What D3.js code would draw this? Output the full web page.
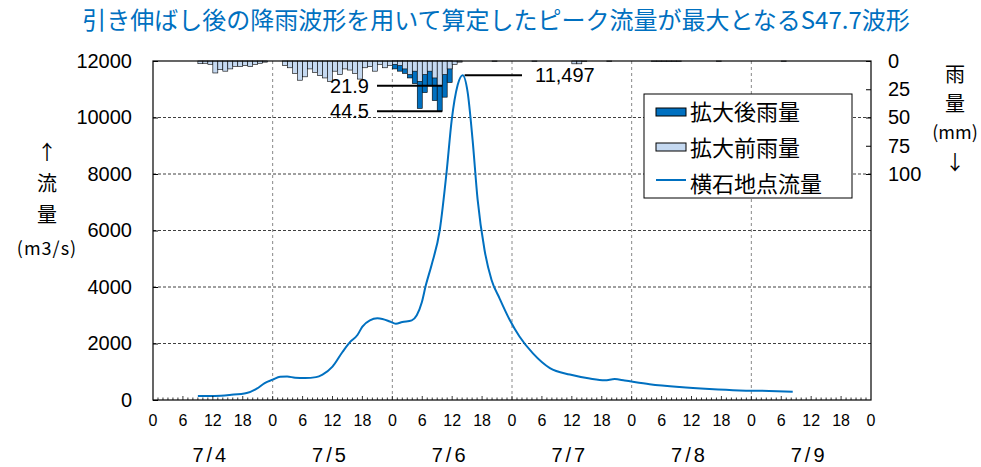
<!DOCTYPE html>
<html><head><meta charset="utf-8">
<script src="https://cdn.jsdelivr.net/npm/d3@7"></script>
<style>
body{margin:0;background:#fff;}
svg{display:block;}
text{font-family:"Liberation Sans",Arial,sans-serif;fill:#000;}
.jp{font-family:"Noto Sans CJK JP","Noto Sans",sans-serif;}
</style></head>
<body>
<svg id="c" width="981" height="467"></svg>
<script>
// ---- data ----
const titleText = "引き伸ばし後の降雨波形を用いて算定したピーク流量が最大となるS47.7波形";
const dayLabels = ["7/4","7/5","7/6","7/7","7/8","7/9"];
const hourTickLabels = [0,6,12,18];
const flowTicks = [0,2000,4000,6000,8000,10000,12000];
const rainTicks = [0,25,50,75,100];
// hours counted from 7/4 0:00
const rainHours  = [9,10,11,12,13,14,15,16,17,18,19,20,21,22,
  26,27,28,29,30,31,32,33,34,35,36,37,38,39,40,41,42,43,44,45,46,47,
  48,49,50,51,52,53,54,55,56,57,58,59,60,61,
  68,76,84,85,86,91,100,101,102,103,104,105,113,126];
const rainBefore = [2.4,2,3,10.6,7.7,9,7,4.7,5,4,5,3,2,1,
  4,6,11,17,14,7,10,13,15,18,9,12,7,8,11,16,6,5,9,3,6,4,
  3,4,7,12,9,18,12,9,15,21.9,12,7,3,1,
  0.5,0.5,2.5,2.5,0.5,0.5,0.5,0.5,0.5,0.5,0.5,0.5,0.5,0.5];
const rainAfter  = [2.4,2,3,10.6,7.7,9,7,4.7,5,4,5,3,2,1,
  4,6,11,17,14,7,10,13,15,18,9,12,7,8,11,16,6,5,9,3,6,4,
  7,9,11,15,20,42,28,22,35,44.5,32,19,3,1,
  0.5,0.5,2.5,2.5,0.5,0.5,0.5,0.5,0.5,0.5,0.5,0.5,0.5,0.5];
const flowHours = [9,12.4,15.4,18.8,20.8,22.4,24,25.5,26.9,28.5,30.5,32.7,34,36,38,39.5,41,42,43.5,45,46,47.5,48.7,50,51.9,52.9,53.9,54.7,55.9,57.5,58.9,59.9,61.1,62.1,63.1,64.1,65.1,66.5,67.9,69.5,71.5,73.5,76.2,79.6,83.6,87.6,90.6,92.6,94.6,99.6,105.6,111.6,117.6,123.6,128.3];
const flowValues = [140,145,180,250,400,600,720,820,830,790,780,810,900,1180,1700,2050,2300,2600,2820,2890,2870,2780,2700,2760,2820,3000,3450,4050,4800,6000,8100,9900,11150,11497,10900,9200,7100,5300,4250,3600,2850,2250,1650,1130,900,760,700,740,690,560,460,390,340,320,290];
const legendLabels = ["拡大後雨量","拡大前雨量","横石地点流量"];
const peakLabel = "11,497";

// ---- layout ----
const L=153, R=871, T=61, B=400;
const blue="#0070C0", light="#C5D9F1";
const svg=d3.select("#c");
const x=d3.scaleLinear().domain([0,144]).range([L,R]);
const y=d3.scaleLinear().domain([0,12000]).range([B,T]);
const yr=d3.scaleLinear().domain([0,300]).range([T,B]);

// title
svg.append("text").attr("class","jp").attr("x",496).attr("y",29)
  .attr("text-anchor","middle").style("font-size","24px").style("fill",blue)
  .text(titleText);

// grid
const g=svg.append("g");
g.selectAll(".hg").data(flowTicks.slice(1,-1)).join("line")
  .attr("x1",L).attr("x2",R).attr("y1",d=>y(d)).attr("y2",d=>y(d))
  .attr("stroke","#404040").attr("stroke-dasharray","3,2").attr("stroke-width",1);
g.selectAll(".vg").data(d3.range(24,144,24)).join("line")
  .attr("x1",d=>x(d)).attr("x2",d=>x(d)).attr("y1",T).attr("y2",B)
  .attr("stroke","#888").attr("stroke-dasharray","3,3").attr("stroke-width",1);

// rain bars
const rain=rainHours.map((h,i)=>({h,b:rainBefore[i],a:rainAfter[i]}));
const bw=x(1)-x(0);
svg.append("g").selectAll("rect").data(rain.filter(d=>d.a>d.b)).join("rect")
  .attr("x",d=>x(d.h)).attr("width",bw).attr("y",T).attr("height",d=>yr(d.a)-T)
  .attr("fill",blue).attr("stroke","#000").attr("stroke-width",0.6);
svg.append("g").selectAll("rect").data(rain).join("rect")
  .attr("x",d=>x(d.h)).attr("width",bw).attr("y",T).attr("height",d=>yr(d.b)-T)
  .attr("fill",light).attr("stroke","#000").attr("stroke-width",0.6);

// flow line
const flow=flowHours.map((h,i)=>[h,flowValues[i]]);
svg.append("path").datum(flow)
  .attr("d",d3.line().x(d=>x(d[0])).y(d=>y(d[1])).curve(d3.curveMonotoneX))
  .attr("fill","none").attr("stroke",blue).attr("stroke-width",2);

// frame
svg.append("rect").attr("x",L).attr("y",T).attr("width",R-L).attr("height",B-T)
  .attr("fill","none").attr("stroke","#000").attr("stroke-width",1.2);

// axes
const yAxis=d3.axisLeft(y).tickValues(flowTicks).tickFormat(d3.format("d")).tickSize(-5).tickPadding(21);
const ya=svg.append("g").attr("transform",`translate(${L},0)`).call(yAxis);
ya.select(".domain").remove();
ya.selectAll("text").style("font-size","20px").style("font-family","Liberation Sans, Arial");

const rAxis=d3.axisRight(yr).tickValues(rainTicks).tickSize(-5).tickPadding(17);
const ra=svg.append("g").attr("transform",`translate(${R},0)`).call(rAxis);
ra.select(".domain").remove();
ra.selectAll("text").style("font-size","20px").style("font-family","Liberation Sans, Arial");

// bottom ticks (inward)
svg.append("g").selectAll("line").data(d3.range(1,144)).join("line")
  .attr("x1",d=>x(d)).attr("x2",d=>x(d)).attr("y1",B).attr("y2",d=>B-(d%6===0?4:2.5))
  .attr("stroke","#000").attr("stroke-width",0.8);
const hourLabels=[];
for(let d=0; d<6; d++) hourTickLabels.forEach(h=>hourLabels.push({v:d*24+h,t:String(h)}));
hourLabels.push({v:144,t:"0"});
svg.append("g").selectAll("text").data(hourLabels).join("text")
  .attr("x",d=>x(d.v)).attr("y",426).attr("text-anchor","middle")
  .style("font-size","16px").text(d=>d.t);
svg.append("g").selectAll("text").data(dayLabels).join("text")
  .attr("x",(d,i)=>x(i*24+12)-2).attr("y",462).attr("text-anchor","middle")
  .style("font-size","20px").style("letter-spacing","3px").text(d=>d);

// axis titles
const lt=["↑","流","量"];
svg.append("g").selectAll("text").data(lt).join("text").attr("class","jp")
  .attr("x",47).attr("y",(d,i)=>160+i*31).attr("text-anchor","middle")
  .style("font-size","20px").text(d=>d);
svg.append("text").attr("class","jp").attr("x",47).attr("y",255).attr("text-anchor","middle")
  .style("font-size","18px").style("letter-spacing","1px").text("(m3/s)");
const rt=["雨","量"];
svg.append("g").selectAll("text").data(rt).join("text").attr("class","jp")
  .attr("x",955).attr("y",(d,i)=>82+i*29).attr("text-anchor","middle")
  .style("font-size","20px").text(d=>d);
svg.append("text").attr("class","jp").attr("x",955).attr("y",139).attr("text-anchor","middle")
  .style("font-size","18px").text("(mm)");
svg.append("text").attr("class","jp").attr("x",955).attr("y",170).attr("text-anchor","middle")
  .style("font-size","20px").text("↓");

// annotations
const maxB=d3.max(rainBefore), maxA=d3.max(rainAfter);
const iB=rainBefore.indexOf(maxB), iA=rainAfter.indexOf(maxA);
[[maxB,rainHours[iB]],[maxA,rainHours[iA]]].forEach(([v,h])=>{
  svg.append("line").attr("x1",377).attr("x2",x(h+1)).attr("y1",yr(v)).attr("y2",yr(v))
    .attr("stroke","#000").attr("stroke-width",2);
  svg.append("text").attr("x",369).attr("y",yr(v)+7).attr("text-anchor","end")
    .style("font-size","20px").text(v.toFixed(1));
});
const pk=d3.max(flowValues), ph=flowHours[flowValues.indexOf(pk)];
svg.append("line").attr("x1",x(ph)+2).attr("x2",522).attr("y1",y(pk)).attr("y2",y(pk))
  .attr("stroke","#000").attr("stroke-width",2);
svg.append("text").attr("x",535).attr("y",y(pk)+7).style("font-size","20px").text(peakLabel);

// legend
const lg=svg.append("g");
lg.append("rect").attr("x",644).attr("y",94).attr("width",208).attr("height",104)
  .attr("fill","#fff").attr("stroke","#000").attr("stroke-width",1);
lg.append("rect").attr("x",656).attr("y",108).attr("width",30).attr("height",8)
  .attr("fill",blue).attr("stroke","#000").attr("stroke-width",1);
lg.append("rect").attr("x",656).attr("y",143).attr("width",30).attr("height",8)
  .attr("fill",light).attr("stroke","#000").attr("stroke-width",1);
lg.append("line").attr("x1",656).attr("x2",686).attr("y1",180).attr("y2",180)
  .attr("stroke",blue).attr("stroke-width",2);
lg.selectAll(".lt").data(legendLabels).join("text").attr("class","jp")
  .attr("x",690).attr("y",(d,i)=>120+i*36).style("font-size","22px").text(d=>d);
</script>
</body></html>
